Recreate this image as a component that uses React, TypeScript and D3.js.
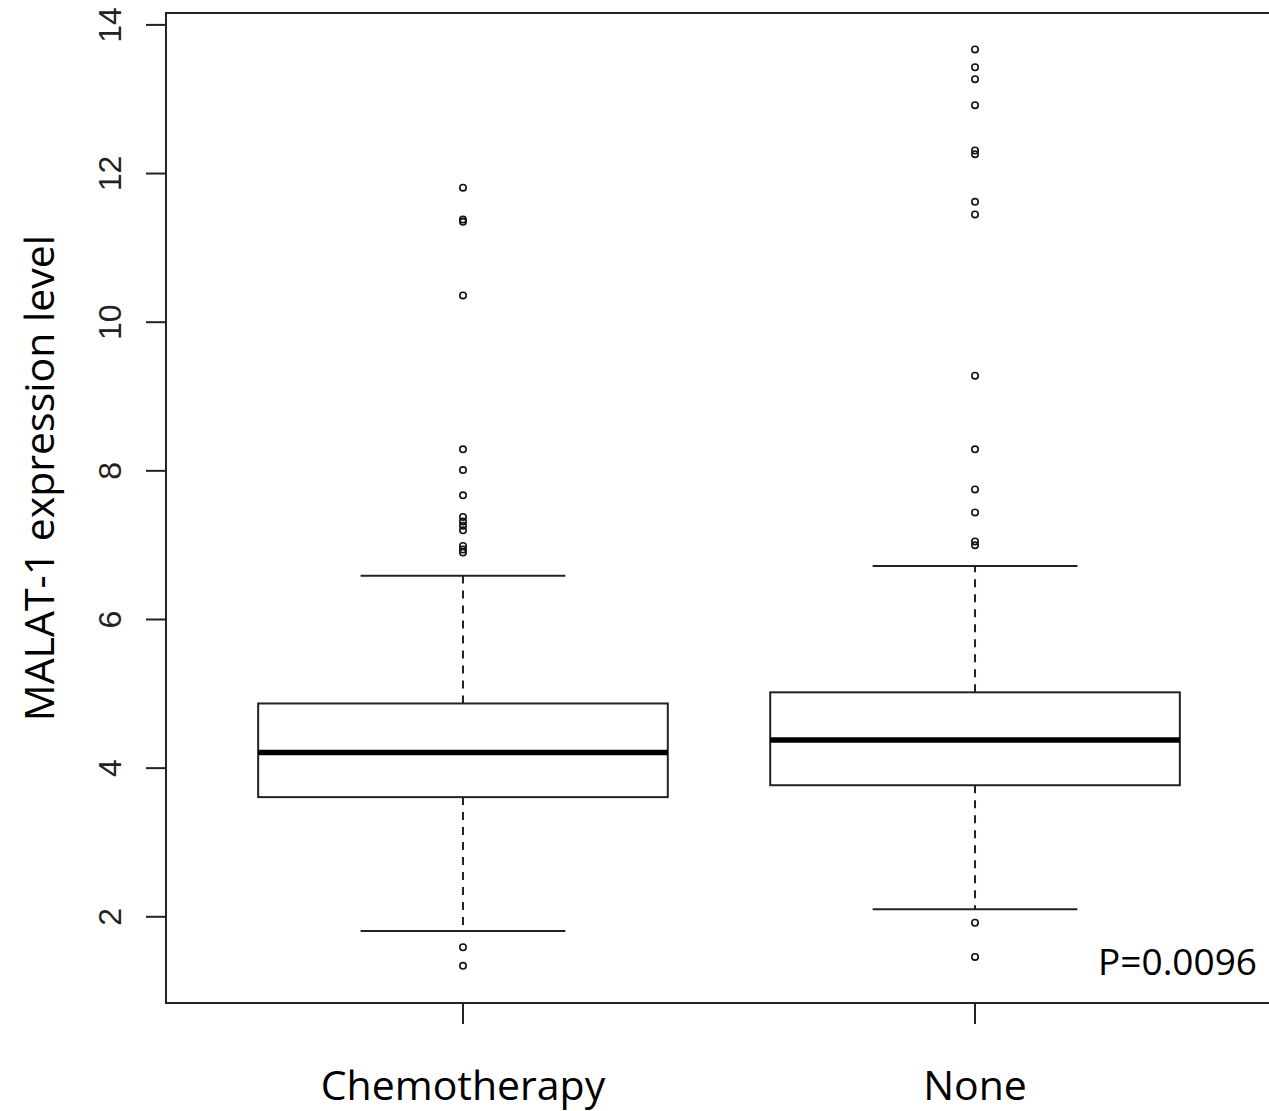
import React from "react";
import * as d3 from "d3";

const categories = ["Chemotherapy", "None"];
const q1 = [3.61, 3.77];
const medians = [4.21, 4.38];
const q3 = [4.87, 5.02];
const whiskerLow = [1.81, 2.1];
const whiskerHigh = [6.59, 6.72];
const outliersChemo = [11.81, 11.38, 11.35, 10.36, 8.29, 8.01, 7.67, 7.38, 7.32, 7.26, 7.2, 6.99, 6.94, 6.9, 1.59, 1.34];
const outliersNone = [13.67, 13.43, 13.27, 12.92, 12.31, 12.26, 11.62, 11.45, 9.28, 8.29, 7.75, 7.44, 7.05, 7.0, 1.92, 1.46];
const outliers = [outliersChemo, outliersNone];
const yTicks = [2, 4, 6, 8, 10, 12, 14];
const yLabel = "MALAT-1 expression level";
const pLabel = "P=0.0096";

const W = 1269;
const H = 1111;

export default function App() {
  const left = 166, right = 1272, top = 13, bottom = 1003;
  const x = d3.scaleLinear().domain([0.42, 2.58]).range([left, right]);
  const y = d3.scaleLinear().domain([0.84, 14.16]).range([bottom, top]);
  const boxHalf = 0.4;
  const stapleHalf = 0.2;
  const tickFont = "'Liberation Sans', Arial, sans-serif";
  const labelFont = "'Open Sans', sans-serif";

  return (
    <svg
      width={W}
      height={H}
      style={{ position: "absolute", left: 0, top: 0, background: "#fff" }}
    >
      <rect x={0} y={0} width={W} height={H} fill="#fff" />
      {/* frame */}
      <rect x={left} y={top} width={right - left} height={bottom - top} fill="none" stroke="#222" strokeWidth={2} />

      {/* y axis ticks */}
      {yTicks.map((t) => (
        <g key={t}>
          <line x1={left - 20} x2={left} y1={y(t)} y2={y(t)} stroke="#222" strokeWidth={2} />
          <text
            transform={`translate(${121},${y(t)}) rotate(-90)`}
            textAnchor="middle"
            fontFamily={tickFont}
            fontSize={32}
            fill="#222"
          >
            {t}
          </text>
        </g>
      ))}

      {/* x axis ticks and labels */}
      {categories.map((c, i) => (
        <g key={c}>
          <line x1={x(i + 1)} x2={x(i + 1)} y1={bottom} y2={bottom + 21} stroke="#222" strokeWidth={2} />
          <text
            x={x(i + 1)}
            y={1100}
            textAnchor="middle"
            fontFamily={labelFont}
            fontSize={41}
            fill="#000"
          >
            {c}
          </text>
        </g>
      ))}

      {/* boxes */}
      {categories.map((c, i) => {
        const cx = x(i + 1);
        const bl = x(i + 1 - boxHalf);
        const br = x(i + 1 + boxHalf);
        const sl = x(i + 1 - stapleHalf);
        const sr = x(i + 1 + stapleHalf);
        return (
          <g key={"box" + c}>
            <line x1={cx} x2={cx} y1={y(q3[i])} y2={y(whiskerHigh[i])} stroke="#222" strokeWidth={2} strokeDasharray="8,7" />
            <line x1={cx} x2={cx} y1={y(q1[i])} y2={y(whiskerLow[i])} stroke="#222" strokeWidth={2} strokeDasharray="8,7" />
            <line x1={sl} x2={sr} y1={y(whiskerHigh[i])} y2={y(whiskerHigh[i])} stroke="#222" strokeWidth={2} />
            <line x1={sl} x2={sr} y1={y(whiskerLow[i])} y2={y(whiskerLow[i])} stroke="#222" strokeWidth={2} />
            <rect x={bl} y={y(q3[i])} width={br - bl} height={y(q1[i]) - y(q3[i])} fill="#fff" stroke="#222" strokeWidth={2} />
            <line x1={bl} x2={br} y1={y(medians[i])} y2={y(medians[i])} stroke="#000" strokeWidth={5.5} />
            {outliers[i].map((v, j) => (
              <circle key={j} cx={cx} cy={y(v)} r={3.2} fill="none" stroke="#111" strokeWidth={1.6} />
            ))}
          </g>
        );
      })}

      {/* p value */}
      <text x={1257} y={975} textAnchor="end" fontFamily={labelFont} fontSize={37} fill="#000">
        {pLabel}
      </text>

      {/* y label */}
      <text
        transform={`translate(${54},${478}) rotate(-90)`}
        textAnchor="middle"
        fontFamily={labelFont}
        fontSize={41}
        fill="#000"
      >
        {yLabel}
      </text>
    </svg>
  );
}
